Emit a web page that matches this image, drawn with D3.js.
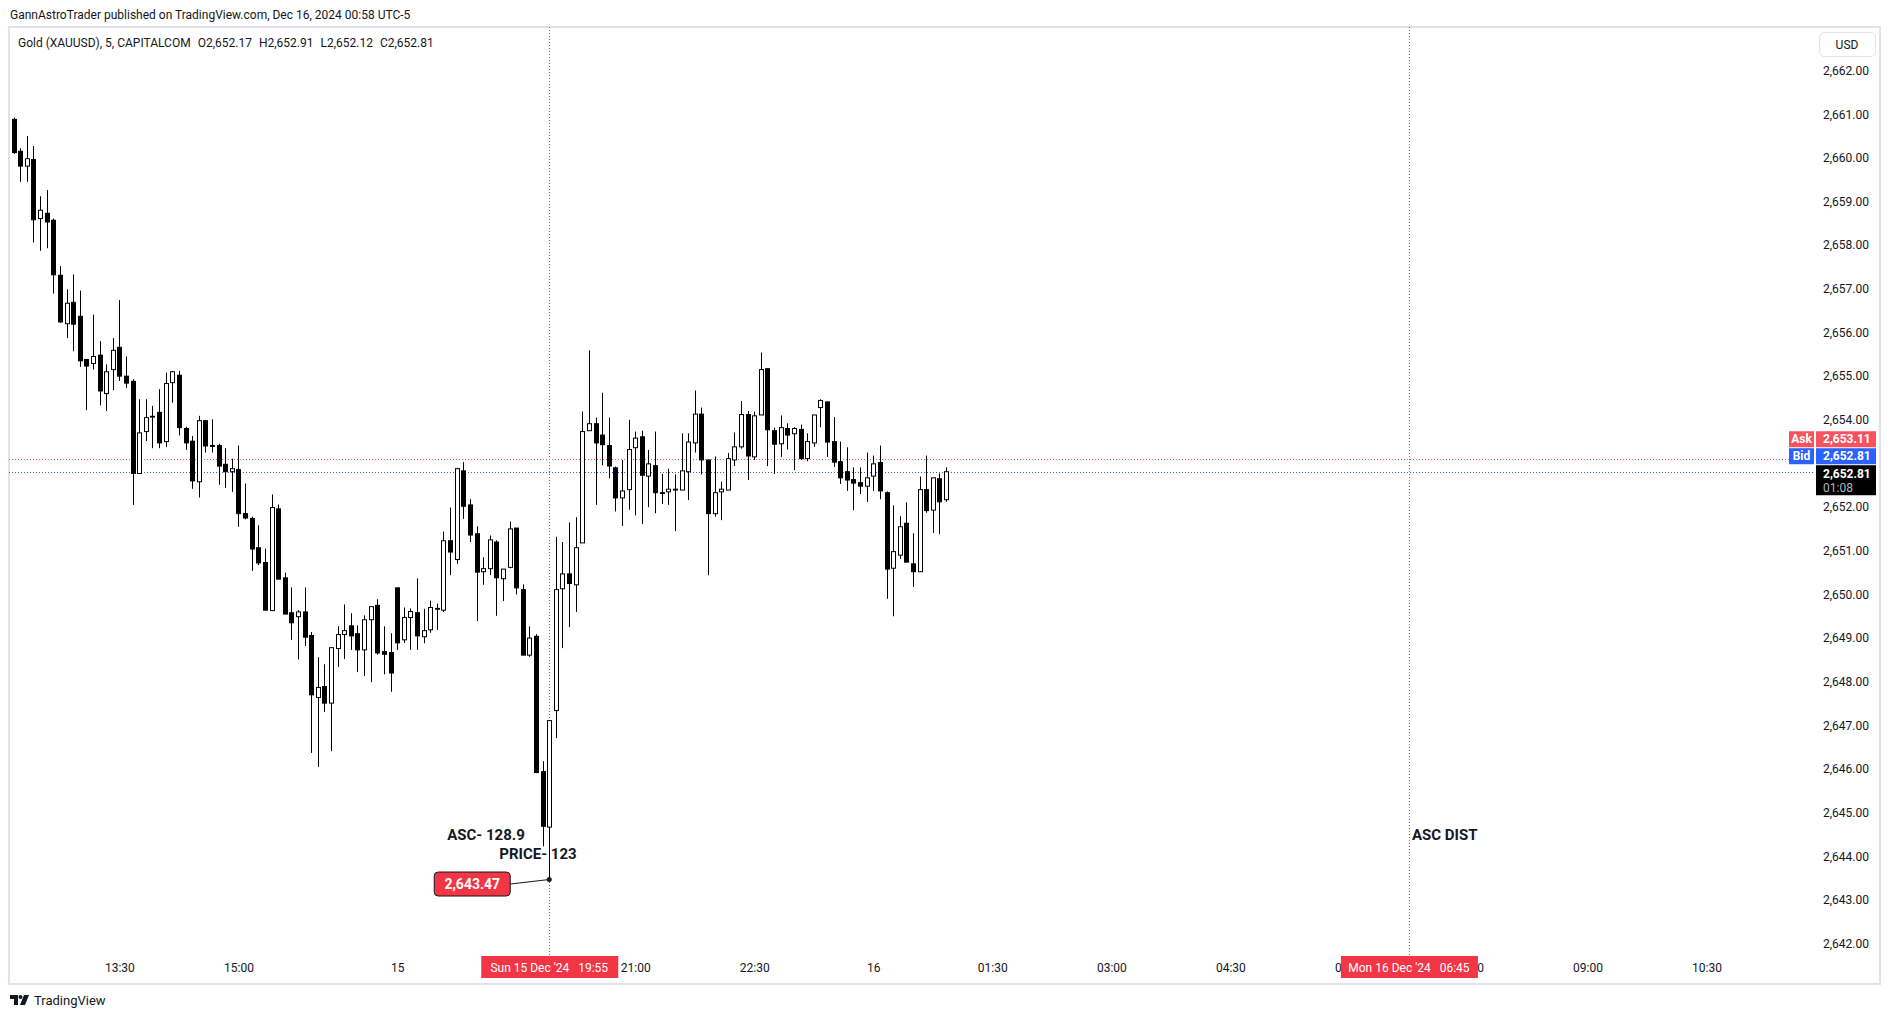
<!DOCTYPE html>
<html>
<head>
<meta charset="utf-8">
<script src="https://cdn.jsdelivr.net/npm/d3@7"></script>
<style>
  body { margin: 0; background: #ffffff; }
  svg { display: block; font-family: Roboto, "Noto Sans", sans-serif; }
</style>
</head>
<body>
<script>

// 5 minute bars, Fri 13 Dec 12:10 -> 16:55, then Sun 15 Dec 18:00 -> Mon 16 Dec 00:55
var opens = [2660.88,2660.15,2659.81,2659.96,2658.61,2658.73,2658.57,2657.31,2656.20,2656.69,
  2656.37,2655.38,2655.29,2655.48,2654.60,2655.15,2655.66,2655.00,2654.88,2652.77,
  2653.73,2654.07,2654.17,2653.50,2654.85,2655.02,2653.80,2653.51,2652.58,2653.98,
  2653.41,2653.41,2652.98,2652.81,2652.86,2651.85,2651.74,2651.07,2650.73,2649.63,
  2651.96,2650.38,2649.58,2649.49,2649.60,2649.06,2647.64,2647.89,2647.51,2648.76,
  2649.08,2649.28,2649.10,2648.73,2649.42,2649.75,2648.69,2648.67,2650.15,2648.96,
  2649.47,2649.58,2649.03,2649.19,2649.68,2649.64,2651.23,2650.80,2652.83,2652.05,
  2651.39,2650.52,2650.59,2651.20,2650.36,2650.62,2651.52,2650.11,2648.61,2649.04,
  2645.94,2644.67,2647.34,2650.13,2650.47,2650.22,2651.18,2653.75,2653.91,2653.65,
  2653.41,2652.90,2652.21,2652.40,2653.36,2653.61,2652.71,2652.95,2652.33,2652.35,
  2652.41,2652.39,2652.81,2653.47,2654.13,2653.08,2651.85,2652.35,2652.39,2653.08,
  2653.38,2654.12,2653.15,2654.11,2655.17,2653.75,2653.45,2653.80,2653.68,2653.78,
  2653.11,2653.47,2654.28,2654.41,2653.50,2653.04,2652.81,2652.63,2652.56,2652.48,
  2652.71,2653.02,2652.33,2650.60,2650.90,2651.63,2650.70,2650.52,2652.40,2651.93,
  2652.65,2652.17];
var highs = [2660.92,2660.22,2660.50,2660.27,2659.12,2659.26,2658.61,2657.52,2656.99,2657.33,
  2656.96,2655.38,2656.41,2655.80,2655.27,2655.87,2656.74,2655.45,2654.93,2654.47,
  2654.47,2654.32,2654.70,2655.08,2655.12,2655.12,2653.84,2653.63,2654.09,2653.98,
  2654.01,2653.45,2653.35,2653.11,2653.41,2652.54,2651.78,2651.58,2651.05,2652.29,
  2652.06,2650.50,2650.16,2649.64,2650.16,2649.14,2648.56,2648.40,2648.78,2649.27,
  2649.77,2649.57,2649.29,2649.52,2649.72,2649.89,2649.27,2649.11,2650.15,2649.70,
  2649.68,2650.37,2649.67,2649.86,2649.79,2651.44,2651.99,2652.90,2653.03,2652.18,
  2651.56,2650.85,2651.35,2651.24,2650.58,2651.67,2651.52,2650.23,2649.27,2649.09,
  2646.18,2647.11,2651.32,2651.20,2651.65,2651.77,2654.19,2655.59,2654.05,2654.62,
  2654.05,2652.93,2653.08,2654.00,2653.73,2653.75,2653.31,2653.73,2652.76,2652.88,
  2652.75,2653.69,2653.69,2654.67,2654.28,2653.08,2653.16,2652.58,2653.24,2653.71,
  2654.43,2654.20,2654.19,2655.54,2655.17,2653.82,2654.10,2653.92,2653.83,2653.89,
  2653.69,2654.11,2654.47,2654.41,2654.06,2653.50,2653.37,2652.91,2652.91,2653.25,
  2653.18,2653.41,2652.36,2652.04,2651.79,2652.11,2651.40,2652.70,2653.18,2652.67,
  2652.77,2652.91];
var lows = [2660.09,2659.45,2659.45,2658.06,2657.87,2657.93,2656.89,2656.22,2655.87,2655.57,
  2655.21,2654.22,2655.15,2654.33,2654.20,2654.68,2654.89,2654.73,2652.05,2652.76,
  2653.51,2653.35,2653.35,2653.38,2654.39,2653.64,2653.31,2652.42,2652.22,2653.25,
  2653.25,2652.51,2652.44,2652.35,2651.55,2651.72,2650.54,2650.67,2649.64,2649.63,
  2650.35,2649.55,2648.96,2648.51,2648.82,2646.37,2646.05,2647.31,2646.41,2648.34,
  2648.52,2648.73,2648.22,2648.13,2647.99,2648.62,2648.17,2647.77,2648.73,2648.89,
  2648.73,2648.73,2648.88,2649.12,2649.19,2649.60,2650.44,2650.70,2651.73,2651.20,
  2649.39,2650.22,2650.44,2649.51,2649.85,2650.60,2650.00,2648.61,2648.57,2645.92,
  2644.23,2643.47,2646.71,2648.77,2649.25,2649.60,2651.18,2653.75,2652.05,2652.96,
  2652.66,2651.90,2651.57,2651.94,2651.81,2651.61,2652.00,2651.86,2652.07,2652.05,
  2651.45,2652.39,2652.16,2653.25,2652.75,2650.44,2651.78,2651.70,2652.39,2652.94,
  2653.34,2652.62,2653.08,2654.11,2652.94,2652.76,2653.15,2653.32,2652.85,2653.08,
  2653.05,2653.38,2653.83,2653.15,2652.92,2652.53,2652.37,2651.93,2652.30,2652.12,
  2652.37,2652.18,2649.90,2649.50,2650.81,2650.74,2650.17,2650.52,2651.87,2651.41,
  2651.38,2652.12];
var closes = [2660.12,2659.81,2659.98,2658.58,2658.80,2658.53,2657.32,2656.24,2656.67,2656.19,
  2655.35,2655.23,2655.45,2654.66,2655.10,2655.59,2655.00,2654.84,2652.77,2653.70,
  2654.05,2654.08,2653.47,2654.83,2655.10,2653.82,2653.47,2652.60,2653.98,2653.40,
  2653.39,2652.94,2652.81,2652.88,2651.85,2651.75,2651.04,2650.72,2649.64,2651.99,
  2650.35,2649.55,2649.35,2649.60,2649.02,2647.70,2647.87,2647.51,2648.78,2649.08,
  2649.17,2649.05,2648.73,2649.42,2649.72,2648.66,2648.63,2648.20,2648.89,2649.47,
  2649.61,2649.05,2649.17,2649.70,2649.67,2651.23,2650.97,2652.88,2652.02,2651.36,
  2650.51,2650.59,2651.25,2650.38,2650.58,2651.50,2650.15,2648.61,2649.00,2645.92,
  2644.69,2647.11,2650.11,2650.47,2650.25,2651.07,2653.73,2653.91,2653.47,2653.43,
  2652.94,2652.21,2652.37,2653.32,2653.58,2652.73,2652.99,2652.33,2652.32,2652.41,
  2652.41,2652.83,2653.49,2654.13,2653.08,2651.85,2652.33,2652.41,2653.11,2653.38,
  2654.12,2653.17,2654.09,2655.15,2653.77,2653.44,2653.82,2653.65,2653.80,2653.11,
  2653.50,2654.11,2654.44,2653.49,2653.03,2652.67,2652.62,2652.55,2652.48,2652.67,
  2652.99,2652.37,2650.58,2650.98,2651.55,2650.74,2650.52,2652.40,2651.92,2652.67,
  2652.12,2652.81];

// time axis labels (bar index on the compressed 5m axis)
var timeTickBars = [16, 34, 58, 94, 112, 130, 148, 166, 184, 202, 220, 238, 256];
var timeTickLabels = ["13:30","15:00","15","21:00","22:30","16","01:30","03:00","04:30","06:00","07:30","09:00","10:30"];

var priceTicks = [2642,2643,2644,2645,2646,2647,2648,2649,2650,2651,2652,2654,2655,2656,2657,2658,2659,2660,2661,2662];

var askPrice = 2653.11;
var bidPrice = 2652.81;
var lastPrice = 2652.81;
var countdown = "01:08";

var crosshairBars = [81, 211];
var crosshairLabels = ["Sun 15 Dec '24   19:55", "Mon 16 Dec '24   06:45"];

var lowMarkBar = 81;
var lowMarkPrice = 2643.47;

var noteTexts = ["ASC- 128.9", "PRICE- 123", "ASC DIST"];
var noteBars = [81, 81, 211];
var notePrices = [2644.37, 2643.93, 2644.37];

var headerText = "GannAstroTrader published on TradingView.com, Dec 16, 2024 00:58 UTC-5";
var legendText = "Gold (XAUUSD), 5, CAPITALCOM";
var ohlcText = ["O2,652.17", "H2,652.91", "L2,652.12", "C2,652.81"];

var width = 1891, height = 1018;
var pane = { left: 9, top: 27, right: 1880, bottom: 984 };

var svg = d3.select("body")
  .append("svg")
  .attr("width", width)
  .attr("height", height);

var xScale = d3.scaleLinear()
  .domain([0, 256])
  .range([13.6, 1706.5]);

var yScale = d3.scaleLinear()
  .domain([2642, 2662])
  .range([943.7, 70.5]);

var fmt = d3.format(",.2f");
var red = "#f23645";

// header
svg.append("text")
  .attr("x", 10)
  .attr("y", 19)
  .attr("font-size", 12)
  .attr("fill", "#131722")
  .text(headerText);

// pane frame
svg.append("rect")
  .attr("x", pane.left)
  .attr("y", pane.top)
  .attr("width", pane.right - pane.left)
  .attr("height", pane.bottom - pane.top)
  .attr("fill", "none")
  .attr("stroke", "#e0e3eb")
  .attr("stroke-width", 2);

// legend
var legend = svg.append("text")
  .attr("x", 18)
  .attr("y", 46.5)
  .attr("font-size", 12)
  .attr("fill", "#131722")
  .attr("xml:space", "preserve");
legend.append("tspan").text(legendText);
ohlcText.forEach(function(t) {
  legend.append("tspan").attr("dx", 7).text(t);
});

// ask / bid lines
svg.append("line")
  .attr("x1", pane.left).attr("x2", 1815)
  .attr("y1", Math.round(yScale(askPrice)) + 0.5).attr("y2", Math.round(yScale(askPrice)) + 0.5)
  .attr("stroke", "#f7525f")
  .attr("stroke-dasharray", "1,2");

svg.append("line")
  .attr("x1", pane.left).attr("x2", 1815)
  .attr("y1", Math.round(yScale(bidPrice)) + 0.5).attr("y2", Math.round(yScale(bidPrice)) + 0.5)
  .attr("stroke", "#2962ff")
  .attr("stroke-dasharray", "1,2");

// crosshair verticals
crosshairBars.forEach(function(b) {
  svg.append("line")
    .attr("x1", Math.round(xScale(b)) + 0.5).attr("x2", Math.round(xScale(b)) + 0.5)
    .attr("y1", pane.top).attr("y2", 956)
    .attr("stroke", red)
    .attr("stroke-dasharray", "1,2");
});

// candles
var bars = d3.range(opens.length);

svg.append("g").selectAll("line")
  .data(bars)
  .enter().append("line")
  .attr("x1", function(i) { return Math.round(xScale(i)) + 0.5; })
  .attr("x2", function(i) { return Math.round(xScale(i)) + 0.5; })
  .attr("y1", function(i) { return yScale(highs[i]); })
  .attr("y2", function(i) { return yScale(lows[i]); })
  .attr("stroke", "#000")
  .attr("stroke-width", 1);

svg.append("g").selectAll("rect")
  .data(bars)
  .enter().append("rect")
  .attr("x", function(i) { return Math.round(xScale(i)) - 1.5; })
  .attr("y", function(i) { return yScale(Math.max(opens[i], closes[i])); })
  .attr("width", 4)
  .attr("height", function(i) { return Math.max(0.8, Math.abs(yScale(opens[i]) - yScale(closes[i]))); })
  .attr("fill", function(i) { return closes[i] >= opens[i] ? "#ffffff" : "#000000"; })
  .attr("stroke", "#000")
  .attr("stroke-width", 1);

// notes
noteTexts.forEach(function(t, k) {
  var dx = [-102, -50, 3][k];
  svg.append("text")
    .attr("x", xScale(noteBars[k]) + dx)
    .attr("y", yScale(notePrices[k]))
    .attr("font-size", 15)
    .attr("font-weight", "bold")
    .attr("fill", "#131722")
    .attr("xml:space", "preserve")
    .text(t);
});

// low price label
var lx = xScale(lowMarkBar), ly = yScale(lowMarkPrice);
svg.append("line")
  .attr("x1", lx - 39).attr("y1", ly + 4.5)
  .attr("x2", lx).attr("y2", ly)
  .attr("stroke", "#131722");
svg.append("circle")
  .attr("cx", lx).attr("cy", ly)
  .attr("r", 2.5)
  .attr("fill", "#131722");
svg.append("rect")
  .attr("x", lx - 115).attr("y", ly - 7.5)
  .attr("width", 76).attr("height", 24)
  .attr("rx", 4)
  .attr("fill", red)
  .attr("stroke", "#131722");
svg.append("text")
  .attr("x", lx - 77).attr("y", ly + 9.5)
  .attr("text-anchor", "middle")
  .attr("font-size", 14)
  .attr("font-weight", "bold")
  .attr("fill", "#fff")
  .text(fmt(lowMarkPrice));

// price axis
var yAxis = svg.append("g")
  .attr("transform", "translate(1818,0)")
  .call(d3.axisRight(yScale).tickValues(priceTicks).tickFormat(fmt).tickSize(0).tickPadding(5));
yAxis.select(".domain").remove();
yAxis.selectAll("text")
  .attr("font-family", "Roboto, sans-serif")
  .attr("font-size", 12)
  .attr("fill", "#131722");

// time axis
var xAxis = svg.append("g")
  .attr("transform", "translate(0,960)")
  .call(d3.axisBottom(xScale).tickValues(timeTickBars)
    .tickFormat(function(d, i) { return timeTickLabels[i]; })
    .tickSize(0).tickPadding(3));
xAxis.select(".domain").remove();
xAxis.selectAll("text")
  .attr("font-family", "Roboto, sans-serif")
  .attr("font-size", 12)
  .attr("fill", "#131722");

// crosshair time labels
crosshairBars.forEach(function(b, k) {
  var cx = xScale(b);
  svg.append("rect")
    .attr("x", cx - 68).attr("y", 956)
    .attr("width", 137).attr("height", 22)
    .attr("fill", red);
  svg.append("text")
    .attr("x", cx).attr("y", 971.5)
    .attr("text-anchor", "middle")
    .attr("font-size", 12)
    .attr("fill", "#fff")
    .attr("xml:space", "preserve")
    .text(crosshairLabels[k]);
});

// price axis labels: ask, bid, last
var by = yScale(bidPrice);
var tags = [
  { name: "Ask", value: fmt(askPrice), top: by - 40.5, color: "#f7525f" },
  { name: "Bid", value: fmt(bidPrice), top: by - 23.5, color: "#2962ff" }
];
tags.forEach(function(t) {
  svg.append("rect").attr("x", 1789).attr("y", t.top).attr("width", 25).attr("height", 16).attr("fill", t.color);
  svg.append("rect").attr("x", 1816).attr("y", t.top).attr("width", 60).attr("height", 16).attr("fill", t.color);
  svg.append("text").attr("x", 1801.5).attr("y", t.top + 12).attr("text-anchor", "middle")
    .attr("font-size", 12).attr("font-weight", "bold").attr("fill", "#fff").text(t.name);
  svg.append("text").attr("x", 1823).attr("y", t.top + 12)
    .attr("font-size", 12).attr("font-weight", "bold").attr("fill", "#fff").text(t.value);
});
svg.append("rect")
  .attr("x", 1816).attr("y", by - 6.5)
  .attr("width", 60).attr("height", 30)
  .attr("fill", "#000");
svg.append("text")
  .attr("x", 1823).attr("y", by + 6)
  .attr("font-size", 12).attr("font-weight", "bold").attr("fill", "#fff")
  .text(fmt(lastPrice));
svg.append("text")
  .attr("x", 1823).attr("y", by + 20)
  .attr("font-size", 12).attr("fill", "#b2b5be")
  .text(countdown);

// currency button
svg.append("rect")
  .attr("x", 1819.5).attr("y", 32.5)
  .attr("width", 56).attr("height", 24)
  .attr("rx", 5)
  .attr("fill", "#fff")
  .attr("stroke", "#e0e3eb");
svg.append("text")
  .attr("x", 1847).attr("y", 48.5)
  .attr("text-anchor", "middle")
  .attr("font-size", 12)
  .attr("fill", "#131722")
  .text("USD");

// footer logo
var logo = svg.append("g").attr("transform", "translate(10,995)");
logo.append("path").attr("d", "M0,0 H8 V10 H4 V4 H0 Z").attr("fill", "#131722");
logo.append("circle").attr("cx", 10.5).attr("cy", 2).attr("r", 2).attr("fill", "#131722");
logo.append("path").attr("d", "M14,0 H19 L15,10 H10 Z").attr("fill", "#131722");
svg.append("text")
  .attr("x", 34)
  .attr("y", 1005)
  .attr("font-size", 13)
  .attr("fill", "#131722")
  .text("TradingView");

</script>
</body>
</html>
